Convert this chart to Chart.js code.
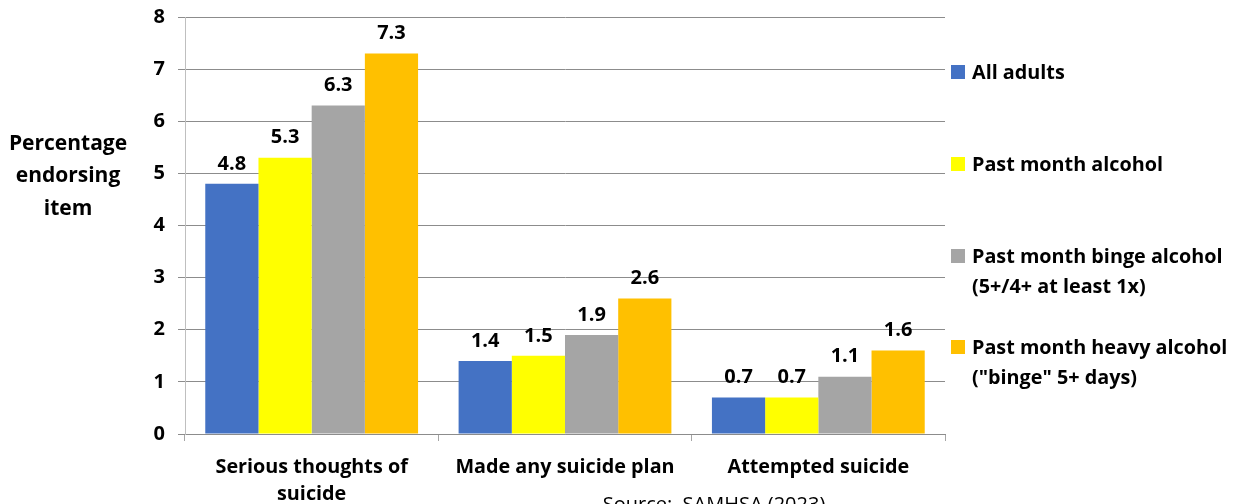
<!DOCTYPE html>
<html>
<head>
<meta charset="utf-8">
<script src="https://cdn.jsdelivr.net/npm/chart.js@4"></script>
<style>
    html, body { margin: 0; padding: 0; background: #fff; }
    #wrap { width: 1243px; height: 504px; }
</style>
</head>
<body>
<div id="wrap"><canvas id="alcoholChart" width="1243" height="504"></canvas></div>
<script>
// Suicidal thoughts and behaviour by drinking pattern
const categories = [['Serious thoughts of', 'suicide'], 'Made any suicide plan', 'Attempted suicide'];
const seriesNames = [
    ['All adults'],
    ['Past month alcohol'],
    ['Past month binge alcohol', '(5+/4+ at least 1x)'],
    ['Past month heavy alcohol', '("binge" 5+ days)']
];
const allAdults = [4.8, 1.4, 0.7];
const pastMonth = [5.3, 1.5, 0.7];
const binge = [6.3, 1.9, 1.1];
const heavy = [7.3, 2.6, 1.6];
const yTicks = [0, 1, 2, 3, 4, 5, 6, 7, 8];
const yTitle = ['Percentage', 'endorsing', 'item'];
const sourceNote = 'Source:  SAMHSA (2023)';

const colors = ['#4472C4', '#FFFF00', '#A5A5A5', '#FFC000'];
const FONT = '"Open Sans", "DejaVu Sans", sans-serif';

const valueLabels = {
    id: 'valueLabels',
    afterDatasetsDraw(chart) {
        const ctx = chart.ctx;
        ctx.save();
        ctx.font = 'bold 20px ' + FONT;
        ctx.fillStyle = '#000';
        ctx.textAlign = 'center';
        ctx.textBaseline = 'bottom';
        chart.data.datasets.forEach((ds, i) => {
            chart.getDatasetMeta(i).data.forEach((bar, j) => {
                ctx.fillText(ds.data[j].toFixed(1), bar.x, bar.y - 10);
            });
        });
        ctx.restore();
    }
};

const sideText = {
    id: 'sideText',
    afterDraw(chart) {
        const ctx = chart.ctx;
        const area = chart.chartArea;
        ctx.save();
        ctx.fillStyle = '#000';

        // y axis title, horizontal
        ctx.font = 'bold 21px ' + FONT;
        ctx.textAlign = 'center';
        ctx.textBaseline = 'middle';
        yTitle.forEach((line, i) => ctx.fillText(line, 68, 144 + i * 32.5));

        // legend on the right
        const tops = [72, 164, 256, 347];
        ctx.font = 'bold 19.8px ' + FONT;
        ctx.textAlign = 'left';
        chart.data.datasets.forEach((ds, i) => {
            ctx.fillStyle = ds.backgroundColor;
            ctx.fillRect(area.right + 6, tops[i] - 7, 14, 14);
            ctx.fillStyle = '#000';
            seriesNames[i].forEach((line, k) => ctx.fillText(line, area.right + 27, tops[i] + 1 + k * 30));
        });

        // source note
        ctx.font = '20px ' + FONT;
        ctx.textAlign = 'center';
        ctx.textBaseline = 'alphabetic';
        ctx.fillText(sourceNote, 714, 511);
        ctx.restore();
    }
};

new Chart(document.getElementById('alcoholChart'), {
    type: 'bar',
    data: {
        labels: categories,
        datasets: [allAdults, pastMonth, binge, heavy].map((values, i) => ({
            label: seriesNames[i].join(' '),
            data: values,
            backgroundColor: colors[i],
            borderWidth: 0,
            categoryPercentage: 0.84,
            barPercentage: 1
        }))
    },
    options: {
        responsive: false,
        animation: false,
        events: [],
        layout: { padding: { top: 17, right: 298, left: 0, bottom: 0 } },
        plugins: {
            legend: { display: false },
            tooltip: { enabled: false }
        },
        scales: {
            x: {
                grid: {
                    offset: true,
                    drawOnChartArea: false,
                    drawTicks: true,
                    tickLength: 7,
                    color: '#a6a6a6'
                },
                border: { color: '#8c8c8c' },
                ticks: {
                    color: '#000',
                    font: { family: FONT, size: 19.8, weight: 'bold', lineHeight: 1.35 },
                    padding: 13,
                    maxRotation: 0
                },
                afterFit(scale) { scale.height = 70; }
            },
            y: {
                min: 0,
                max: 8,
                afterBuildTicks(scale) { scale.ticks = yTicks.map(v => ({ value: v })); },
                grid: { color: '#8c8c8c', tickLength: 7 },
                border: { color: '#bfbfbf' },
                ticks: {
                    color: '#000',
                    font: { family: FONT, size: 20, weight: 'bold' },
                    padding: 13
                },
                afterFit(scale) {
                    scale.width = 185;
                    scale.paddingTop = 0;
                    scale.paddingBottom = 0;
                }
            }
        }
    },
    plugins: [valueLabels, sideText]
});
</script>
</body>
</html>
